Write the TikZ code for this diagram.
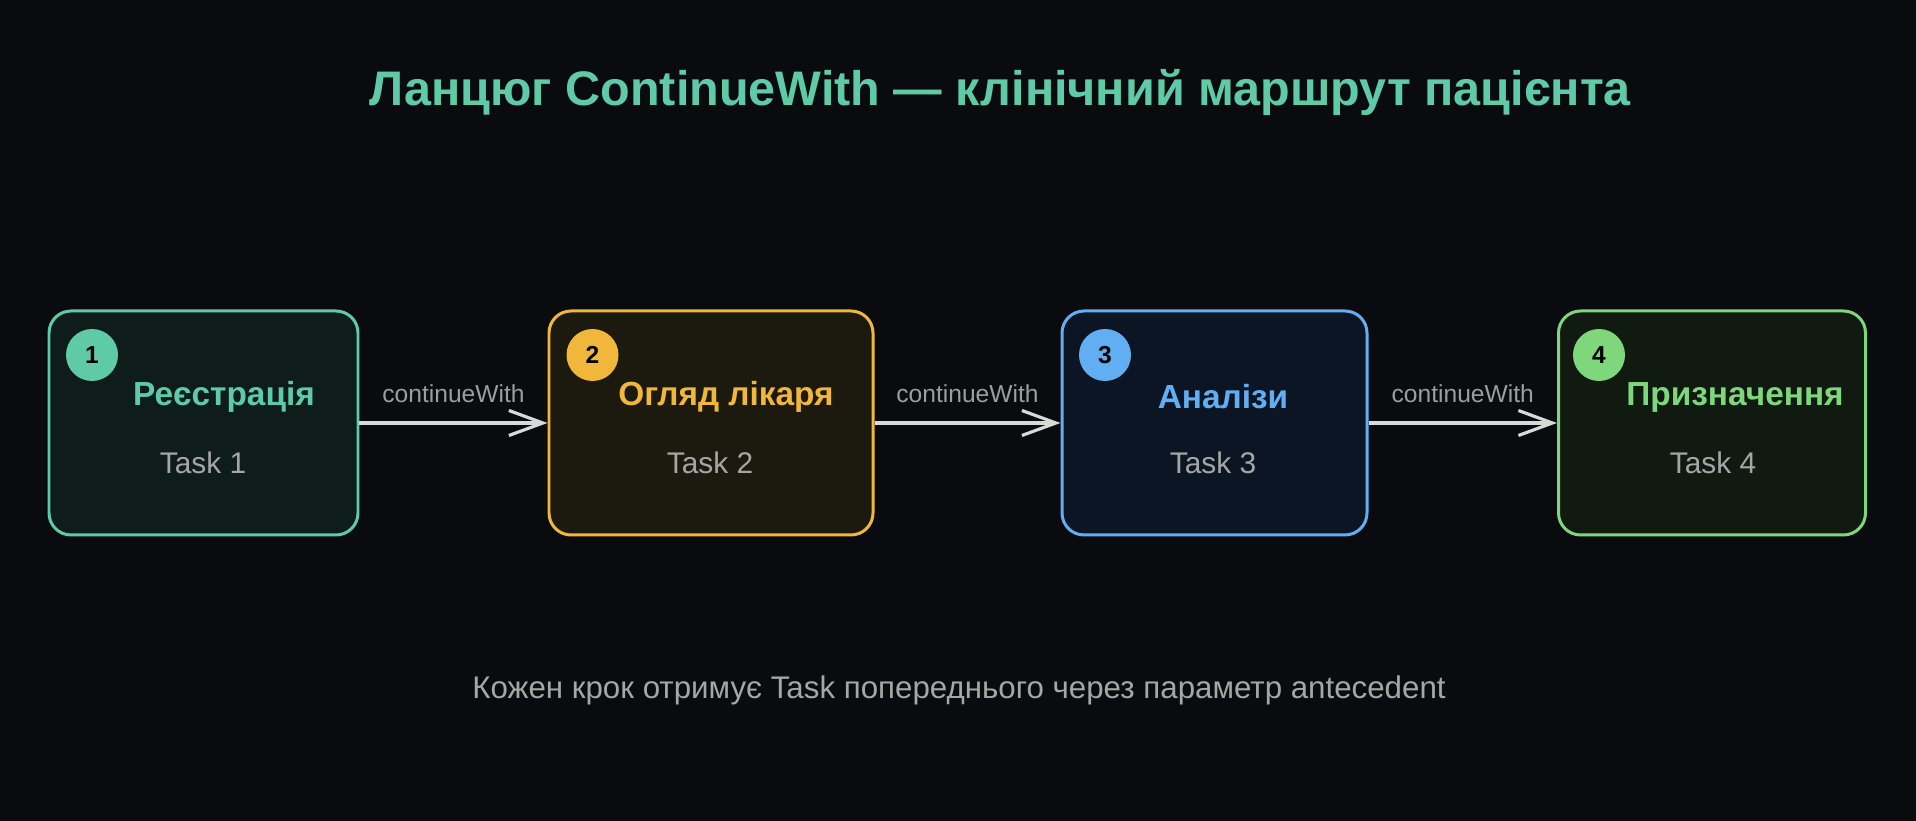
\documentclass[tikz,border=0pt]{standalone}
\usepackage{fontspec}
\setmainfont{Liberation Sans}
\usetikzlibrary{arrows.meta}
\definecolor{bgdark}{HTML}{090B0F}
\definecolor{tealline}{HTML}{5ECBA6}
\definecolor{tealfill}{HTML}{0E1C1A}
\definecolor{goldline}{HTML}{F0B73B}
\definecolor{goldfill}{HTML}{1C190F}
\definecolor{skyline}{HTML}{62AEF2}
\definecolor{skyfill}{HTML}{0B1524}
\definecolor{leafline}{HTML}{7ED77B}
\definecolor{leaffill}{HTML}{101A11}
\definecolor{tasktext}{HTML}{A6A6A6}
\definecolor{arrowgray}{HTML}{D9D9D9}

\begin{document}
\begin{tikzpicture}[
    stepbox/.style={draw=#1, line width=0.85pt, rounded corners=0.22cm, minimum height=2.24cm},
    badge/.style={circle, fill=#1, minimum size=0.52cm, inner sep=0pt, text=black, font=\bfseries\fontsize{7}{8}\selectfont},
    steptitle/.style={text=#1, font=\bfseries\fontsize{9.5}{11}\selectfont},
    tasklabel/.style={text=tasktext, font=\fontsize{8.5}{10}\selectfont},
    flow/.style={line width=0.9pt, arrowgray, -{Straight Barb[length=0.34cm, width=0.25cm, line width=0.9pt]}},
    flowlabel/.style={text=tasktext!110, font=\fontsize{7}{8}\selectfont, yshift=0.29cm}
]
    \pgfmathsetmacro{\rowy}{-4.23}
    \pgfmathsetmacro{\titley}{-3.97}
    \pgfmathsetmacro{\tasky}{-4.63}
    \pgfmathsetmacro{\badgey}{-3.55}

    \fill [bgdark] (0, 0) rectangle (19.16, -8.21);
    \useasboundingbox (0, 0) rectangle (19.16, -8.21);

    \node [text=tealline, font=\bfseries\fontsize{13.8}{16}\selectfont] (heading) at (10.0, -0.93) {Ланцюг ContinueWith — клінічний маршрут пацієнта};

    \node [stepbox=tealline, fill=tealfill, minimum width=3.09cm] (registration) at (2.035, \rowy) {};
    \node [stepbox=goldline, fill=goldfill, minimum width=3.24cm] (exam) at (7.11, \rowy) {};
    \node [stepbox=skyline, fill=skyfill, minimum width=3.05cm] (tests) at (12.145, \rowy) {};
    \node [stepbox=leafline, fill=leaffill, minimum width=3.07cm] (treatment) at (17.12, \rowy) {};

    \node [badge=tealline] (badge 1) at (0.92, \badgey) {1};
    \node [badge=goldline] (badge 2) at (5.925, \badgey) {2};
    \node [badge=skyline] (badge 3) at (11.05, \badgey) {3};
    \node [badge=leafline] (badge 4) at (15.99, \badgey) {4};

    \node [steptitle=tealline] (title 1) at (2.24, \titley) {Реєстрація};
    \node [steptitle=goldline] (title 2) at (7.26, \titley) {Огляд лікаря};
    \node [steptitle=skyline] (title 3) at (12.23, \titley) {Аналізи};
    \node [steptitle=leafline] (title 4) at (17.35, \titley) {Призначення};

    \node [tasklabel] (task 1) at (2.03, \tasky) {Task 1};
    \node [tasklabel] (task 2) at (7.10, \tasky) {Task 2};
    \node [tasklabel] (task 3) at (12.13, \tasky) {Task 3};
    \node [tasklabel] (task 4) at (17.13, \tasky) {Task 4};

    \draw [flow] (registration) -- (exam) node [midway, flowlabel] {continueWith};
    \draw [flow] (exam) -- (tests) node [midway, flowlabel] {continueWith};
    \draw [flow] (tests) -- (treatment) node [midway, flowlabel] {continueWith};

    \node [tasklabel, font=\fontsize{8.9}{10}\selectfont] (footnote) at (9.59, -6.90) {Кожен крок отримує Task попереднього через параметр antecedent};
\end{tikzpicture}
\end{document}
